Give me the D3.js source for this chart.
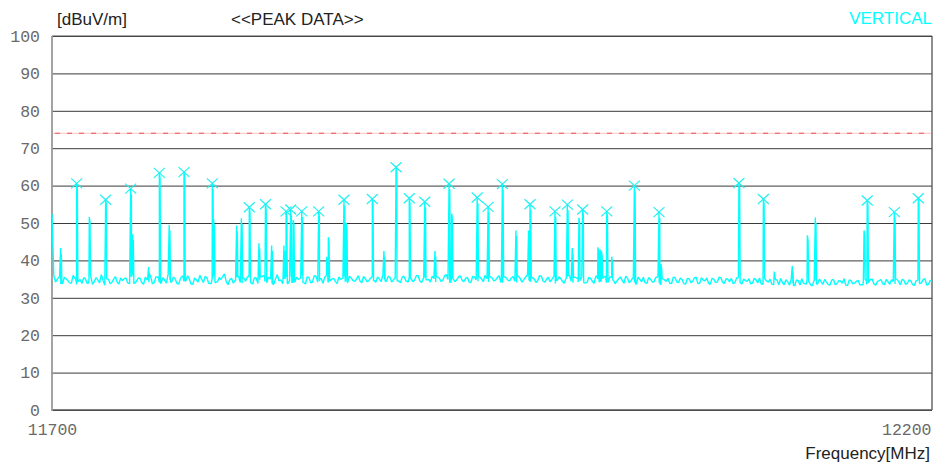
<!DOCTYPE html>
<html>
<head>
<meta charset="utf-8">
<script src="https://cdn.jsdelivr.net/npm/d3@7"></script>
<style>
  body { margin: 0; background: #fff; }
  svg { display: block; }
</style>
</head>
<body>
<svg width="934" height="471"></svg>
<script>
// axis ranges and ticks
const freqStart = 11700;
const freqStop = 12200;
const xTickLabels = [11700, 12200];
const yTicks = [0, 10, 20, 30, 40, 50, 60, 70, 80, 90, 100];
const limitLevel = 74;

// noise floor readings at the even MHz points 11700, 11702 ... 12200
const floorStep = 2;
const floorLevels = [
  52.5, 34.2, 35.6, 33.8, 35.1, 34.0, 36.0, 33.6, 34.9, 35.4,
  33.9, 35.8, 34.3, 34.8, 36.2, 33.5, 35.0, 34.1, 35.7, 33.7,
  34.6, 35.3, 33.8, 36.1, 34.4, 35.2, 33.6, 34.9, 35.9, 34.0,
  35.5, 33.9, 34.7, 36.3, 34.2, 35.0, 33.7, 35.8, 34.5, 35.1,
  33.6, 34.8, 36.0, 34.1, 35.4, 33.8, 35.9, 34.3, 34.9, 36.4,
  33.5, 35.2, 34.6, 35.7, 33.9, 34.4, 36.1, 33.7, 35.3, 34.8,
  35.9, 34.0, 35.1, 33.6, 36.2, 34.7, 35.0, 33.8, 35.6, 34.3,
  34.9, 36.0, 33.7, 35.4, 34.2, 35.8, 34.5, 33.9, 36.3, 34.6,
  35.2, 33.8, 34.9, 35.7, 34.1, 35.3, 34.4, 35.9, 34.0, 35.1,
  34.6, 35.8, 34.2, 35.0, 36.1, 34.4, 35.5, 34.8, 35.2, 34.0,
  35.7, 34.3, 35.1, 34.7, 36.0, 34.1, 35.4, 34.9, 35.8, 34.2,
  35.3, 34.6, 36.2, 34.0, 35.0, 34.8, 35.9, 34.3, 35.5, 34.1,
  35.6, 34.4, 35.1, 36.0, 34.2, 35.3, 34.7, 35.9, 34.0, 35.4,
  34.5, 35.7, 34.1, 35.2, 34.8, 36.1, 34.3, 35.0, 34.6, 35.8,
  34.2, 35.5, 34.9, 33.8, 35.6, 34.4, 35.1, 36.0, 34.0, 35.3,
  34.7, 35.9, 34.1, 35.2, 33.9, 35.0, 34.5, 35.7, 34.2, 35.4,
  33.8, 35.1, 34.6, 35.8, 34.0, 35.3, 33.7, 34.9, 35.5, 33.9,
  35.0, 34.2, 35.6, 33.6, 34.8, 35.2, 33.8, 35.4, 34.1, 34.9,
  33.7, 35.1, 34.4, 35.5, 33.9, 34.7, 35.3, 33.6, 35.0, 34.2,
  35.4, 33.8, 34.9, 35.2, 34.0, 35.6, 33.7, 34.6, 35.1, 33.9,
  34.8, 35.3, 33.6, 34.5, 35.0, 33.4, 34.7, 35.2, 33.5, 34.3,
  34.9, 33.3, 34.6, 35.1, 33.7, 34.4, 33.2, 34.8, 35.0, 33.6,
  34.2, 33.4, 34.9, 33.8, 34.5, 35.1, 33.3, 34.6, 33.9, 34.7,
  33.5, 34.8, 34.1, 35.0, 33.4, 34.6, 33.8, 34.9, 33.6, 34.4,
  35.0, 33.5, 34.7, 33.9, 34.5, 33.3, 34.8, 34.0, 35.1, 33.6,
  34.3
];
// noise floor readings at the odd MHz points 11701, 11703 ... 12199
const floorLevelsOdd = [
  36.0, 34.9, 33.7, 35.5, 34.6, 33.9, 35.2, 34.4, 33.8, 35.0,
  34.5, 33.6, 35.4, 34.0, 34.7, 35.6, 33.8, 34.9, 34.2, 35.3,
  35.1, 34.0, 35.6, 33.9, 35.3, 34.1, 35.5, 34.2, 33.8, 35.6,
  34.1, 35.4, 33.9, 34.8, 35.6, 33.8, 35.2, 34.4, 35.9, 33.7,
  35.3, 34.2, 35.0, 35.7, 33.9, 35.2, 34.1, 35.4, 35.7, 34.3,
  34.8, 33.9, 35.5, 34.1, 35.3, 35.6, 34.0, 35.4, 33.8, 35.6,
  34.4, 35.5, 33.8, 35.0, 34.5, 33.9, 35.7, 34.6, 34.0, 35.5,
  35.3, 34.1, 35.6, 34.0, 35.9, 34.3, 35.1, 35.6, 34.2, 35.0,
  34.4, 35.6, 35.2, 34.3, 35.8, 34.6, 35.0, 34.5, 35.7, 34.3,
  35.3, 34.6, 35.6, 34.3, 34.9, 35.7, 34.2, 35.3, 34.5, 35.6,
  34.6, 35.5, 34.3, 35.9, 34.5, 35.2, 34.8, 34.2, 35.1, 35.6,
  34.4, 35.8, 34.9, 35.3, 34.3, 35.6, 34.7, 35.2, 34.2, 35.7,
  34.8, 35.6, 34.3, 35.2, 35.7, 34.5, 35.4, 34.2, 35.6, 34.7,
  35.3, 34.4, 35.8, 34.2, 35.5, 34.6, 35.4, 34.1, 35.9, 34.5,
  35.0, 34.3, 35.7, 34.6, 35.2, 33.9, 35.6, 34.4, 35.5, 34.2,
  35.4, 34.0, 35.5, 34.4, 35.8, 34.3, 35.2, 34.0, 35.6, 34.7,
  34.5, 35.6, 33.9, 35.2, 34.6, 34.1, 35.5, 34.3, 34.0, 35.4,
  34.3, 35.4, 34.0, 35.1, 34.4, 33.9, 35.5, 34.2, 35.3, 33.8,
  35.2, 34.0, 35.3, 33.8, 35.4, 34.5, 33.9, 35.2, 34.1, 35.5,
  34.2, 35.1, 34.3, 33.8, 35.3, 34.1, 35.0, 34.4, 33.7, 35.2,
  34.0, 33.7, 35.1, 34.2, 33.6, 34.9, 33.5, 34.1, 34.8, 33.4,
  33.9, 34.8, 33.4, 33.9, 34.9, 33.5, 34.6, 33.7, 34.3, 34.9,
  33.6, 34.7, 33.5, 34.6, 33.9, 33.4, 34.8, 33.7, 34.4, 33.5,
  34.6, 33.6, 34.9, 33.7, 34.4, 34.9, 33.5, 34.3, 34.8, 33.7,
  34.4, 34.9, 33.6, 34.8, 33.5, 34.6, 33.8, 34.9, 33.4, 34.7
];

// marked peaks (MHz, dBuV/m)
const peakFreqs = [
  11714.0, 11730.5, 11744.7, 11761.0, 11775.0, 11791.1, 11812.1, 11821.3,
  11833.0, 11835.6, 11841.9, 11851.5, 11865.9, 11882.0, 11895.5, 11903.0,
  11911.8, 11925.6, 11941.6, 11947.8, 11955.9, 11971.6, 11985.8, 11992.8,
  12001.5, 12015.2, 12030.9, 12044.9, 12090.3, 12104.2, 12163.2, 12178.6,
  12192.2
];
const peakLevels = [
  60.6, 56.2, 59.2, 63.4, 63.6, 60.6, 54.2, 55.0,
  53.1, 53.6, 53.1, 53.1, 56.2, 56.4, 64.9, 56.6,
  55.7, 60.5, 56.8, 54.3, 60.4, 55.0, 53.1, 54.9,
  53.6, 53.1, 60.0, 52.9, 60.7, 56.4, 56.0, 52.9,
  56.6
];

// smaller unmarked spikes
const spikeFreqs = [
  11704.9, 11721.2, 11745.8, 11754.9, 11766.6, 11791.9, 11804.9, 11807.6,
  11817.6, 11824.8, 11831.8, 11837.1, 11856.1, 11857.0, 11867.2, 11888.6,
  11917.6, 11927.1, 11963.6, 11970.8, 11995.6, 11999.4, 12010.2, 12011.4,
  12012.2, 12018.0, 12046.0, 12110.4, 12120.6, 12129.2, 12133.7, 12161.4
];
const spikeLevels = [
  43.3, 51.6, 47.0, 38.2, 49.5, 51.0, 49.3, 51.3,
  44.6, 44.0, 44.0, 50.8, 41.0, 46.2, 50.0, 42.5,
  42.5, 52.5, 48.0, 48.0, 43.3, 51.4, 43.5, 43.0,
  42.5, 41.0, 39.0, 37.0, 38.5, 46.7, 51.5, 48.0
];

const svg = d3.select('svg');
const plotLeft = 52, plotRight = 932, plotTop = 36, plotBottom = 410;

const x = d3.scaleLinear().domain([freqStart, freqStop]).range([plotLeft, plotRight]);
const y = d3.scaleLinear().domain([0, 100]).range([plotBottom, plotTop]);

// grid + y labels
const yAxis = svg.append('g')
    .attr('transform', `translate(${plotLeft},0)`)
    .call(d3.axisLeft(y).tickValues(yTicks).tickSizeInner(-(plotRight - plotLeft)).tickSizeOuter(0).tickPadding(12));
yAxis.select('.domain').remove();
yAxis.selectAll('line').attr('stroke', '#3a3a3a').attr('stroke-width', 1);
yAxis.selectAll('text')
    .attr('font-family', '"Liberation Mono", monospace')
    .attr('font-size', 16.5)
    .attr('fill', '#6a6a6a');

// x labels
const xAxis = svg.append('g')
    .attr('transform', `translate(0,${plotBottom})`)
    .call(d3.axisBottom(x).tickValues(xTickLabels).tickSize(0).tickFormat(d3.format('d')));
xAxis.select('.domain').remove();
xAxis.selectAll('text')
    .attr('y', 25)
    .attr('dy', 0)
    .attr('font-family', '"Liberation Mono", monospace')
    .attr('font-size', 16.5)
    .attr('fill', '#6a6a6a')
    .attr('text-anchor', (d, i) => i === xTickLabels.length - 1 ? 'end' : 'middle')
    .attr('x', (d, i) => i === xTickLabels.length - 1 ? -1 : 0);

// frame
svg.append('line').attr('x1', plotLeft).attr('x2', plotRight).attr('y1', plotTop).attr('y2', plotTop)
    .attr('stroke', '#555').attr('stroke-width', 1.2);
svg.append('line').attr('x1', plotRight).attr('x2', plotRight).attr('y1', plotTop).attr('y2', plotBottom)
    .attr('stroke', '#444').attr('stroke-width', 1.2);
svg.append('line').attr('x1', plotLeft).attr('x2', plotRight).attr('y1', plotBottom).attr('y2', plotBottom)
    .attr('stroke', '#555').attr('stroke-width', 1.6);
svg.append('line').attr('x1', plotLeft).attr('x2', plotLeft).attr('y1', plotTop).attr('y2', plotBottom + 1)
    .attr('stroke', '#9a9a9a').attr('stroke-width', 1.8);

// limit line
svg.append('line').attr('x1', plotLeft + 1).attr('x2', plotRight).attr('y1', y(limitLevel)).attr('y2', y(limitLevel))
    .attr('stroke', '#ffc0c0').attr('stroke-width', 1);
svg.append('line').attr('x1', plotLeft + 3).attr('x2', plotRight).attr('y1', y(limitLevel)).attr('y2', y(limitLevel))
    .attr('stroke', '#e85050').attr('stroke-width', 1).attr('stroke-dasharray', '5,7');

// build trace: both floor sweeps merged, spikes inserted
const floorPts = floorLevels.map((v, i) => [freqStart + i * floorStep, v])
    .concat(floorLevelsOdd.map((v, i) => [freqStart + 1 + i * floorStep, v]))
    .sort((a, b) => a[0] - b[0]);
const floorAt = f => floorPts[Math.max(0, Math.min(floorPts.length - 1, Math.round(f - freqStart)))][1];
const spikePts = [];
const allFreqs = peakFreqs.concat(spikeFreqs);
const allLevels = peakLevels.concat(spikeLevels);
allFreqs.forEach((f, i) => {
  spikePts.push([f - 0.6, floorAt(f - 1)]);
  spikePts.push([f, allLevels[i]]);
  spikePts.push([f + 0.4, allLevels[i] - 1.5]);
  spikePts.push([f + 0.7, floorAt(f + 1)]);
});
const trace = floorPts.concat(spikePts).sort((a, b) => a[0] - b[0]);

svg.append('clipPath').attr('id', 'plot')
  .append('rect').attr('x', plotLeft).attr('y', plotTop).attr('width', plotRight - plotLeft).attr('height', plotBottom - plotTop);

svg.append('path')
    .datum(trace)
    .attr('clip-path', 'url(#plot)')
    .attr('fill', 'none')
    .attr('stroke', '#00ffff')
    .attr('stroke-width', 1.4)
    .attr('stroke-linejoin', 'bevel')
    .attr('d', d3.line().x(d => x(d[0])).y(d => y(d[1])));

// peak markers
const mk = svg.append('g').attr('stroke', '#20f0f0').attr('stroke-width', 1.2);
peakFreqs.forEach((f, i) => {
  const cx = x(f), cy = y(peakLevels[i]);
  mk.append('line').attr('x1', cx - 5.5).attr('y1', cy - 5).attr('x2', cx + 5.5).attr('y2', cy + 5);
  mk.append('line').attr('x1', cx - 5.5).attr('y1', cy + 5).attr('x2', cx + 5.5).attr('y2', cy - 5);
});

// texts
const sans = '"Liberation Sans", Arial, sans-serif';
svg.append('text').attr('x', 57).attr('y', 25).attr('font-family', sans).attr('font-size', 17)
    .attr('fill', '#222').text('[dBuV/m]');
svg.append('text').attr('x', 231).attr('y', 25).attr('font-family', sans).attr('font-size', 17)
    .attr('fill', '#222').text('<<PEAK DATA>>');
svg.append('text').attr('x', 932).attr('y', 24).attr('text-anchor', 'end').attr('font-family', sans)
    .attr('font-size', 17).attr('fill', '#00ffff').text('VERTICAL');
svg.append('text').attr('x', 930).attr('y', 459).attr('text-anchor', 'end').attr('font-family', sans)
    .attr('font-size', 17).attr('fill', '#222').text('Frequency[MHz]');
</script>
</body>
</html>
